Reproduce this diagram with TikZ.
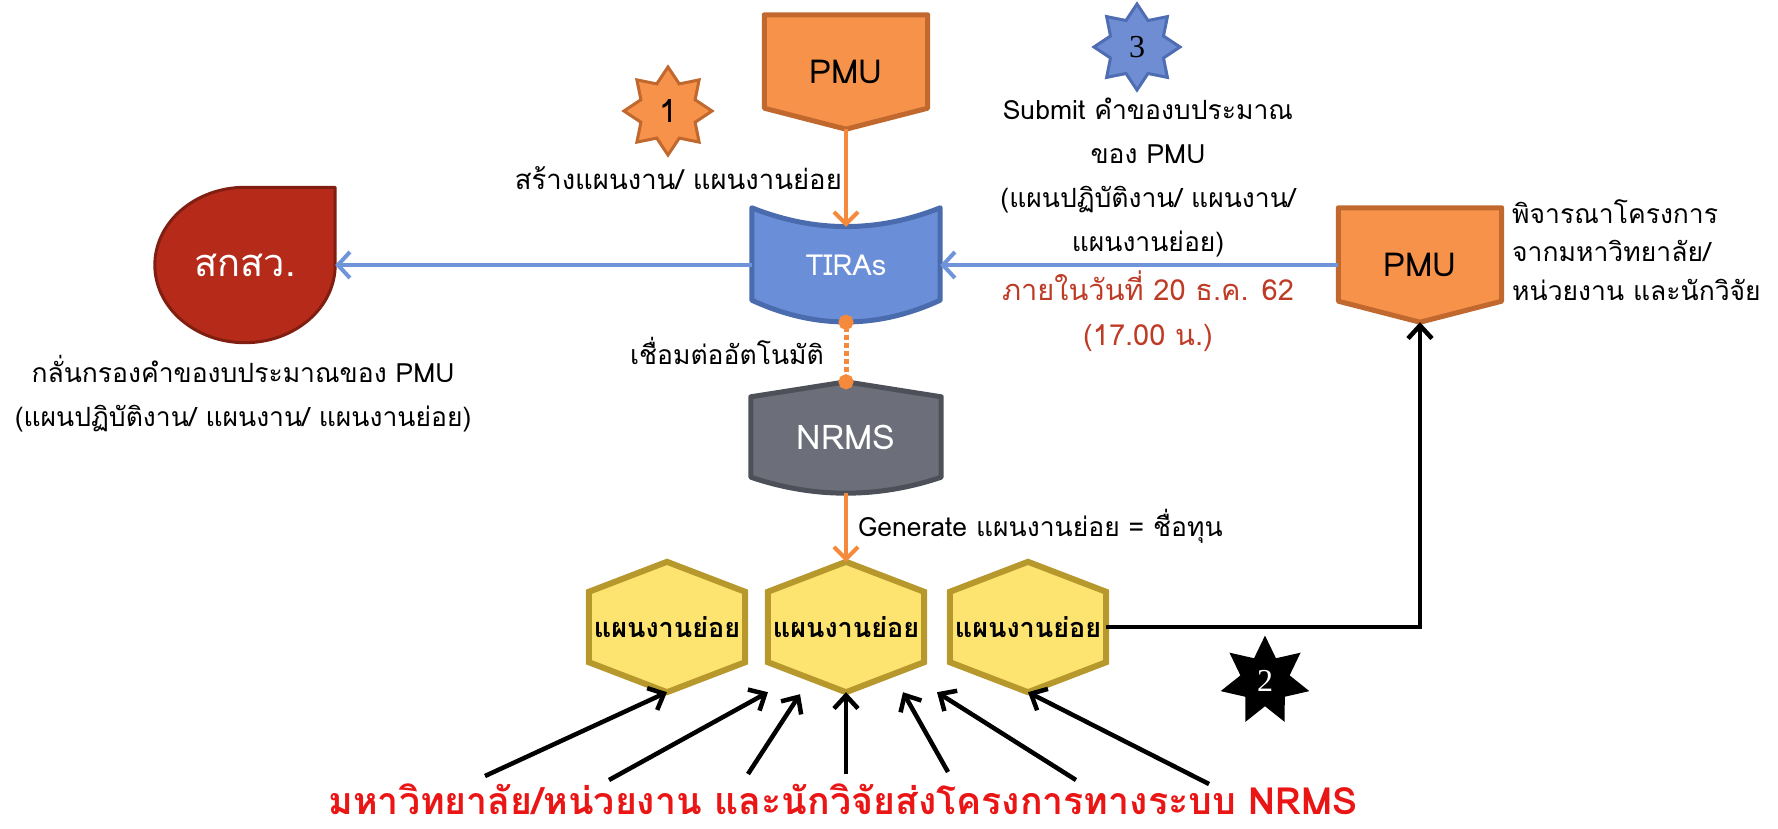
\documentclass[tikz,border=0pt]{standalone}
\usepackage{fontspec}
\setmainfont{Loma}[Script=Thai]
\newfontfamily\digitserif{Liberation Serif}
\usetikzlibrary{shapes.geometric,arrows.meta,backgrounds}
\definecolor{pmuorange}{HTML}{F7924A}
\definecolor{pmuborder}{HTML}{C0682E}
\definecolor{tirasblue}{HTML}{6A8FD8}
\definecolor{tirasborder}{HTML}{4A6BAE}
\definecolor{nrmsgray}{HTML}{6C6F79}
\definecolor{nrmsborder}{HTML}{4D5058}
\definecolor{skvred}{HTML}{B62A19}
\definecolor{skvborder}{HTML}{801E12}
\definecolor{hexfill}{HTML}{FDE36F}
\definecolor{hexborder}{HTML}{B7982C}
\definecolor{arrowblue}{HTML}{6F94DA}
\definecolor{arroworange}{HTML}{F68A3C}
\definecolor{datered}{HTML}{BE3B26}
\definecolor{titlered}{HTML}{EA1515}
\definecolor{starblue}{HTML}{6F8DD2}
\definecolor{starblueborder}{HTML}{4E6DB3}
\tikzset{
  boxlabel/.style={inner sep=0pt, font=\fontsize{33}{36}\selectfont},
  pmubox/.style={boxlabel, minimum width=163pt, minimum height=114pt},
  pmushape/.style={fill=pmuorange, draw=pmuborder, line width=5pt, line join=round},
  tirasshape/.style={fill=tirasblue, draw=tirasborder, line width=5pt, line join=round},
  nrmsshape/.style={fill=nrmsgray, draw=nrmsborder, line width=5pt, line join=round},
  skvshape/.style={fill=skvred, draw=skvborder, line width=3pt, line join=round},
  hexbox/.style={inner sep=0pt, minimum width=156pt, minimum height=130pt, font=\bfseries\fontsize{27}{30}\selectfont},
  hexshape/.style={fill=hexfill, draw=hexborder, line width=6pt, line join=miter},
  note/.style={inner sep=0pt, font=\fontsize{26.5}{44}\selectfont, align=center},
  starbox/.style={star, inner sep=0pt, line width=3pt, font=\fontsize{32}{32}\selectfont},
  orangearrow/.style={draw=arroworange, line width=4pt, -{Straight Barb[length=12pt,width=24pt]}},
  orangedots/.style={draw=arroworange, line width=5pt, dash pattern=on 5pt off 3pt,
     {Circle[length=15pt]}-{Circle[length=15pt]}, shorten <=-7.5pt, shorten >=-7.5pt},
  bluearrow/.style={draw=arrowblue, line width=4pt, -{Straight Barb[length=12pt,width=26pt]}},
  blackarrow/.style={draw=black, line width=4.5pt, -{Straight Barb[length=13pt,width=24pt]}},
}
\begin{document}
\begin{tikzpicture}[x=1pt,y=-1pt]
\useasboundingbox (0,0) rectangle (1778,828);
% main nodes
\node[pmubox] (pmu1) at (846,72) {PMU};
\node[pmubox] (pmu2) at (1420,265) {PMU};
\node[boxlabel, text=white, minimum width=188pt, minimum height=114pt, font=\fontsize{29}{32}\selectfont] (tiras) at (846,265) {TIRAs};
\node[boxlabel, text=white, minimum width=190pt, minimum height=111pt, font=\fontsize{34}{36}\selectfont] (nrms) at (846,437.5) {NRMS};
\node[boxlabel, text=white, minimum width=180pt, minimum height=155pt, font=\fontsize{38}{40}\selectfont] (skv) at (245,265) {สกสว.};
\node[hexbox] (hex1) at (667,627) {แผนงานย่อย};
\node[hexbox] (hex2) at (846,627) {แผนงานย่อย};
\node[hexbox] (hex3) at (1028,627) {แผนงานย่อย};
% shapes behind the labels
\begin{scope}[on background layer]
\draw[pmushape] (pmu1.north west) -- (pmu1.north east) -- ([yshift=21pt]pmu1.south east) -- (pmu1.south) -- ([yshift=21pt]pmu1.south west) -- cycle;
\draw[pmushape] (pmu2.north west) -- (pmu2.north east) -- ([yshift=21pt]pmu2.south east) -- (pmu2.south) -- ([yshift=21pt]pmu2.south west) -- cycle;
\draw[tirasshape] (tiras.north west) .. controls ([xshift=63pt,yshift=-25pt]tiras.north west) and ([xshift=-63pt,yshift=-25pt]tiras.north east) .. (tiras.north east) -- ([yshift=22pt]tiras.south east) .. controls ([xshift=-63pt,yshift=-7pt]tiras.south east) and ([xshift=63pt,yshift=-7pt]tiras.south west) .. ([yshift=22pt]tiras.south west) -- cycle;
\draw[nrmsshape] ([yshift=-15pt]nrms.north west) -- (nrms.north) -- ([yshift=-15pt]nrms.north east) -- ([yshift=16pt]nrms.south east) .. controls ([xshift=-63pt,yshift=-5.3pt]nrms.south east) and ([xshift=63pt,yshift=-5.3pt]nrms.south west) .. ([yshift=16pt]nrms.south west) -- cycle;
\draw[skvshape] (skv.north east) -- (skv.north) .. controls ([xshift=-49.7pt]skv.north) and ([yshift=42.8pt]skv.west) .. (skv.west) .. controls ([yshift=-42.8pt]skv.west) and ([xshift=-49.7pt]skv.south) .. (skv.south) .. controls ([xshift=49.7pt]skv.south) and ([yshift=-42.8pt]skv.east) .. (skv.east) -- cycle;
\foreach \h in {hex1,hex2,hex3}{
  \draw[hexshape] (\h.north) -- ([yshift=-30pt]\h.north east) -- ([yshift=30pt]\h.south east) -- (\h.south) -- ([yshift=30pt]\h.south west) -- ([yshift=-30pt]\h.north west) -- cycle;
}
\end{scope}
% stars
\node[starbox, star points=8, star point ratio=1.5, minimum size=88pt, fill=pmuorange, draw=pmuborder] (star1) at (668,111) {1};
\node[starbox, star points=7, star point ratio=1.8, minimum size=84pt, fill=black, draw=black, text=white, font=\digitserif\fontsize{32}{32}\selectfont] (star2) at (1265,681) {2};
\node[starbox, star points=8, star point ratio=1.5, minimum size=86pt, fill=starblue, draw=starblueborder, font=\digitserif\fontsize{32}{32}\selectfont] (star3) at (1137,47) {3};
% texts
\node[note, anchor=base east, font=\fontsize{27.5}{44}\selectfont] (t1) at (842,189) {สร้างแผนงาน/ แผนงานย่อย};
\node[note, anchor=base east] (tconn) at (824,364) {เชื่อมต่ออัตโนมัติ};
\node[note, anchor=base west] (tgen) at (858,536) {Generate แผนงานย่อย = ชื่อทุน};
\node[note, anchor=base] (tsub) at (1148,251) {Submit คำของบประมาณ\\ของ PMU\\(แผนปฏิบัติงาน/ แผนงาน/\\แผนงานย่อย)};
\node[note, anchor=base, text=datered, font=\fontsize{29}{45}\selectfont] (tdate) at (1148,345) {ภายในวันที่ 20 ธ.ค. 62\\(17.00 น.)};
\node[note, anchor=base west, align=left, font=\fontsize{26.5}{38.5}\selectfont] (tright) at (1512,300) {พิจารณาโครงการ\\จากมหาวิทยาลัย/\\หน่วยงาน และนักวิจัย};
\node[note, anchor=base] (tleft) at (243,426) {กลั่นกรองคำของบประมาณของ PMU\\(แผนปฏิบัติงาน/ แผนงาน/ แผนงานย่อย)};
\node[inner sep=0pt, anchor=base, text=titlered, font=\bfseries\fontsize{37.5}{40}\selectfont] (title) at (843,814) {มหาวิทยาลัย/หน่วยงาน และนักวิจัยส่งโครงการทางระบบ NRMS};
% connectors
\draw[orangearrow] (pmu1.south) -- ([yshift=-19pt]tiras.north);
\draw[bluearrow] (pmu2.west) -- (tiras.east);
\draw[bluearrow] (tiras.west) -- (skv.east);
\draw[orangedots] (tiras.south) -- (nrms.north);
\draw[orangearrow] (nrms.south) -- (hex2.north);
\draw[blackarrow] (hex3.east) -| (pmu2.south);
\coordinate (s1) at (485,776);
\coordinate (s2) at (609,780);
\coordinate (s3) at (748,774);
\coordinate (s4) at (846,774);
\coordinate (s5) at (948,772);
\coordinate (s6) at (1076,780);
\coordinate (s7) at (1209,784);
\draw[blackarrow] (s1) -- (hex1.south);
\draw[blackarrow] (s2) -- ([xshift=-78pt]hex2.south);
\draw[blackarrow] (s3) -- ([xshift=-46pt,yshift=-2pt]hex2.south);
\draw[blackarrow] (s4) -- (hex2.south);
\draw[blackarrow] (s5) -- ([xshift=57pt]hex2.south);
\draw[blackarrow] (s6) -- ([xshift=-91pt]hex3.south);
\draw[blackarrow] (s7) -- (hex3.south);
\end{tikzpicture}
\end{document}
